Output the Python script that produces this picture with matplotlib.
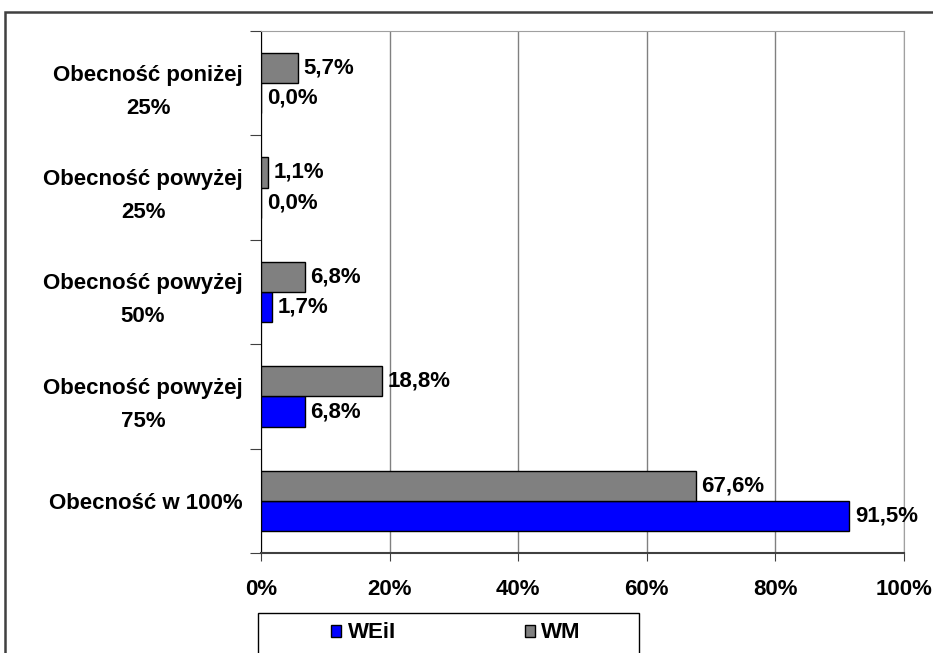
import matplotlib.pyplot as plt
import numpy as np
from matplotlib.patches import Rectangle, Patch

plt.rcParams['font.family'] = ['Liberation Sans', 'DejaVu Sans']
plt.rcParams['font.weight'] = 'bold'

# ---- dane ----
kategorie = ["Obecność w 100%", "Obecność powyżej\n75%", "Obecność powyżej\n50%",
             "Obecność powyżej\n25%", "Obecność poniżej\n25%"]
weii = [91.5, 6.8, 1.7, 0.0, 0.0]
wm = [67.6, 18.8, 6.8, 1.1, 5.7]
x_ticks = [0, 20, 40, 60, 80, 100]

W, H = 933, 653
FS = 16
fig = plt.figure(figsize=(W / 100, H / 100), dpi=100)
ax = fig.add_axes([261 / W, 1 - 553 / H, (904 - 261) / W, (553 - 31) / H])

# ramka zewnetrzna
fig.patches.append(Rectangle((5 / W, -0.1), 1.2, 1 - 12 / H + 0.1, transform=fig.transFigure,
                             fill=False, edgecolor='#404040', linewidth=1.8))

y = np.arange(len(kategorie))
h = 0.29
ax.barh(y - h / 2, weii, height=h, color='#0000ff', edgecolor='black', linewidth=1, zorder=3)
ax.barh(y + h / 2, wm, height=h, color='#808080', edgecolor='black', linewidth=1, zorder=3)

def fmt(v):
    return f"{v:.1f}%".replace('.', ',')

for i in range(len(kategorie)):
    ax.text(weii[i] + 0.9, y[i] - h / 2, fmt(weii[i]), va='center', ha='left',
            fontsize=FS, fontweight='bold', zorder=4)
    ax.text(wm[i] + 0.9, y[i] + h / 2, fmt(wm[i]), va='center', ha='left',
            fontsize=FS, fontweight='bold', zorder=4)

ax.set_xlim(0, 100)
ax.set_ylim(-0.5, len(kategorie) - 0.5)
ax.set_xticks(x_ticks)
ax.set_xticklabels([f"{t}%" for t in x_ticks], fontsize=FS, fontweight='bold')
ax.xaxis.grid(True, color='#808080', linewidth=1, zorder=0)

ax.set_yticks(np.arange(-0.5, len(kategorie), 1))
ax.set_yticklabels([])
ax.set_yticks(y, minor=True)
ax.set_yticklabels(kategorie, minor=True, fontsize=FS, fontweight='bold',
                   multialignment='center', linespacing=1.75)
ax.tick_params(axis='y', which='minor', length=0, pad=13)
ax.tick_params(axis='y', which='major', length=8, direction='out', color='#404040')
ax.tick_params(axis='x', length=6, direction='out', color='#404040', pad=13)

for s in ['top', 'right']:
    ax.spines[s].set_color('#a0a0a0')
ax.spines['left'].set_color('black')
ax.spines['bottom'].set_color('#404040')
ax.spines['bottom'].set_linewidth(1.5)

# legenda w ramce (ucieta u dolu)
fig.patches.append(Rectangle((258 / W, -0.1), (639 - 258) / W, 1 - 613 / H + 0.1,
                             transform=fig.transFigure, fill=False, edgecolor='black', linewidth=1))
uchwyty = [Patch(facecolor='#0000ff', edgecolor='black'), Patch(facecolor='#808080', edgecolor='black')]
leg = fig.legend(uchwyty, ['WEiI', 'WM'], loc='center left', bbox_to_anchor=(331 / W, 1 - 633 / H),
                 ncol=2, frameon=False, fontsize=FS,
                 handlelength=0.45, handleheight=0.45, handletextpad=0.3, columnspacing=5.8,
                 borderpad=0, borderaxespad=0)
for t in leg.get_texts():
    t.set_fontweight('bold')

fig.savefig('out.png', dpi=100)
